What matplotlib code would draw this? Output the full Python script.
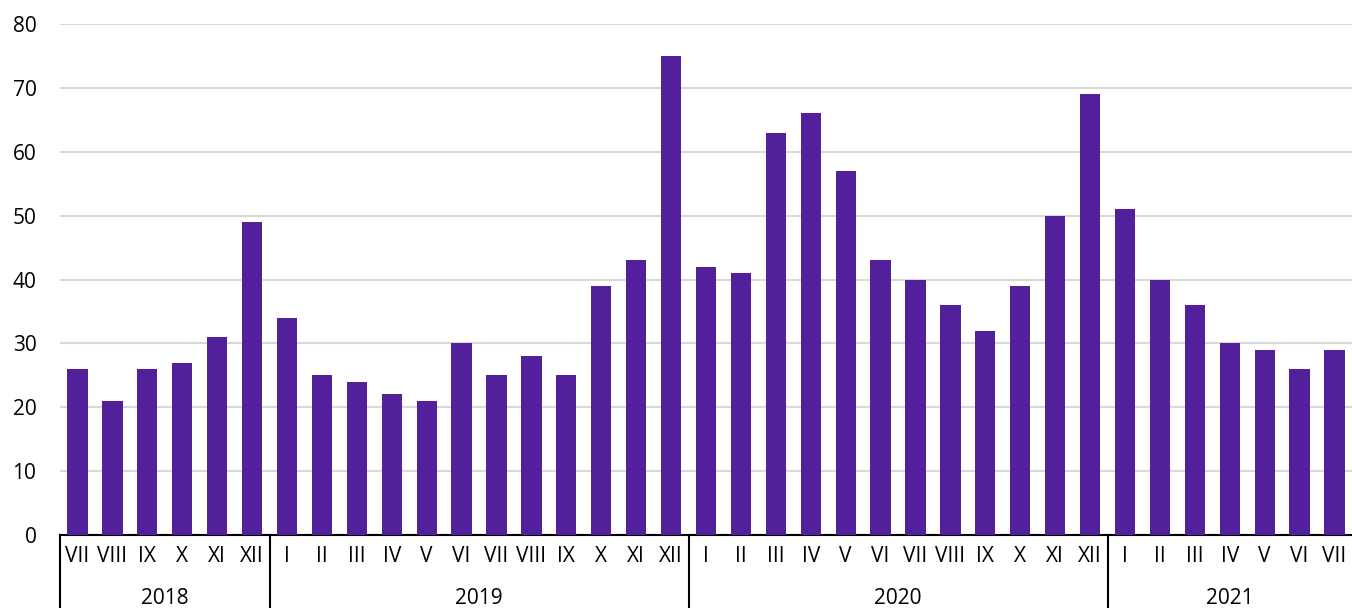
import matplotlib
matplotlib.use("Agg")
import matplotlib.pyplot as plt
import matplotlib.transforms as mtransforms

plt.rcParams["font.family"] = ["Open Sans", "DejaVu Sans"]

years = ["2018", "2019", "2020", "2021"]
months = [
    ["VII", "VIII", "IX", "X", "XI", "XII"],
    ["I", "II", "III", "IV", "V", "VI", "VII", "VIII", "IX", "X", "XI", "XII"],
    ["I", "II", "III", "IV", "V", "VI", "VII", "VIII", "IX", "X", "XI", "XII"],
    ["I", "II", "III", "IV", "V", "VI", "VII"],
]
values = [
    [26, 21, 26, 27, 31, 49],
    [34, 25, 24, 22, 21, 30, 25, 28, 25, 39, 43, 75],
    [42, 41, 63, 66, 57, 43, 40, 36, 32, 39, 50, 69],
    [51, 40, 36, 30, 29, 26, 29],
]


def main():
    labels = [m for grp in months for m in grp]
    vals = [v for grp in values for v in grp]
    x = list(range(len(vals)))

    fig = plt.figure(figsize=(13.52, 6.08), dpi=100)
    ax = fig.add_axes([60 / 1352, 73 / 608, 1292 / 1352, 511 / 608])
    ax.bar(x, vals, width=0.58, color="#52209a", zorder=3)
    ax.set_xlim(-0.5, len(vals) - 0.5)
    ax.set_ylim(0, 80)
    ax.set_yticks(range(0, 81, 10))
    ax.yaxis.grid(True, color="#d9d9d9", linewidth=1.5, zorder=0)
    ax.tick_params(axis="y", length=0, labelsize=15, pad=17)
    ax.set_xticks([])
    for s in ["top", "right", "left"]:
        ax.spines[s].set_visible(False)
    ax.spines["bottom"].set_color("black")
    ax.spines["bottom"].set_linewidth(1.5)

    trans = mtransforms.blended_transform_factory(ax.transData, ax.transAxes)
    for i, lab in enumerate(labels):
        ax.text(i, -0.043, lab, transform=trans, ha="center", va="center", fontsize=15)

    start = 0
    bounds = [-0.5]
    for yr, grp in zip(years, months):
        end = start + len(grp)
        ax.text((start + end - 1) / 2, -0.125, yr, transform=trans,
                ha="center", va="center", fontsize=15)
        bounds.append(end - 0.5)
        start = end
    for b in bounds[:-1]:
        ax.plot([b, b], [0, -0.2], transform=trans, color="black",
                linewidth=1.5, clip_on=False)

    fig.savefig("out.png", dpi=100)


if __name__ == "__main__":
    main()
